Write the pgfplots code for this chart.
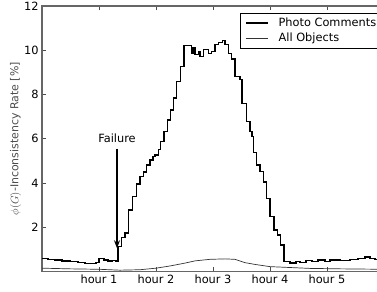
\documentclass[border=0pt]{standalone}
\usepackage{pgfplots}
\pgfplotsset{compat=1.18}
\usepackage{fontspec}
\setmainfont{DejaVu Sans}
\usetikzlibrary{arrows.meta}

\pgfplotstableread{
x y
0.000 0.60
0.105 0.55
0.228 0.52
0.351 0.48
0.491 0.45
0.632 0.40
0.754 0.37
0.877 0.35
0.947 0.40
1.000 0.58
1.088 0.52
1.158 0.48
1.228 0.50
1.298 0.46
1.333 1.12
1.398 1.55
1.456 1.74
1.514 2.78
1.584 3.38
1.661 3.95
1.719 4.30
1.777 4.50
1.837 4.82
1.895 5.04
1.947 5.20
1.982 5.27
2.040 5.50
2.082 5.87
2.140 6.33
2.198 6.85
2.258 7.30
2.304 7.84
2.363 8.59
2.433 9.27
2.491 10.20
2.626 9.84
2.649 10.10
2.684 9.80
2.742 9.95
2.772 9.72
2.830 10.02
2.918 9.84
2.977 9.95
3.035 10.25
3.093 10.35
3.170 10.44
3.211 10.25
3.268 9.84
3.328 9.60
3.386 8.80
3.474 8.67
3.509 7.60
3.591 6.78
3.649 6.33
3.684 6.10
3.707 5.38
3.767 4.82
3.825 4.52
3.882 4.05
3.942 3.30
4.000 2.50
4.070 1.87
4.128 1.65
4.188 1.20
4.246 0.44
4.351 0.38
4.456 0.45
4.526 0.40
4.632 0.50
4.737 0.45
4.842 0.52
4.965 0.45
5.053 0.52
5.228 0.50
5.404 0.55
5.544 0.58
5.667 0.65
5.754 0.58
5.842 0.55
6.000 0.55
}\photo

\pgfplotstableread{
x y
0.000 0.15
0.491 0.12
1.000 0.10
1.368 0.06
1.719 0.08
2.000 0.15
2.246 0.25
2.509 0.38
2.684 0.48
2.947 0.55
3.211 0.57
3.386 0.55
3.561 0.40
3.737 0.32
4.000 0.22
4.351 0.18
4.702 0.14
5.228 0.12
6.000 0.10
}\allobj

\begin{document}
\begin{tikzpicture}
\begin{axis}[
  at={(0,0)}, anchor=south west,
  scale only axis, width=342bp, height=265.5bp,
  xmin=0, xmax=6, ymin=0, ymax=12,
  xtick={1,2,3,4,5},
  xticklabels={hour 1,hour 2,hour 3,hour 4,hour 5},
  ytick={2,4,6,8,10,12},
  /pgf/number format/assume math mode=true,
  font=\fontsize{11.4}{13}\selectfont,
  tick label style={font=\fontsize{11.4}{13}\selectfont},
  axis line style={black!60, line width=1.2pt},
  tick style={black!70, line width=0.6pt},
  major tick length=4bp,
  tick align=inside,
  xtick pos=both, ytick pos=left,
  ylabel={$\phi(G)$-Inconsistency Rate [\%]},
  ylabel style={font=\fontsize{11}{13}\selectfont, text=black!70, yshift=-4bp},
  legend style={at={(axis description cs:0.579,0.9755)}, anchor=north west,
    draw=black, line width=0.6pt, font=\fontsize{11.4}{13}\selectfont,
    row sep=1pt, inner xsep=5bp, inner ysep=3bp,
    nodes={inner xsep=5bp}},
  legend cell align=left,
  legend image code/.code={\draw[#1] (0bp,0bp) -- (22bp,0bp); \path (27bp,0bp);},
]
\addplot[const plot, black, line width=1.3pt] table[x=x,y=y] {\photo};
\addlegendentry{Photo Comments}
\addplot[sharp plot, black!80, line width=0.7pt] table[x=x,y=y] {\allobj};
\addlegendentry{All Objects}
\node[font=\fontsize{11.4}{13}\selectfont] at (axis cs:1.316,6.0) {Failure};
\draw[line width=1.4pt, -{Stealth[length=8bp,width=6bp]}] (axis cs:1.316,5.55) -- (axis cs:1.316,1.05);
\end{axis}
\pgfresetboundingbox
\useasboundingbox (-42bp,-20.5bp) rectangle (335bp,271.5bp);
\end{tikzpicture}
\end{document}
